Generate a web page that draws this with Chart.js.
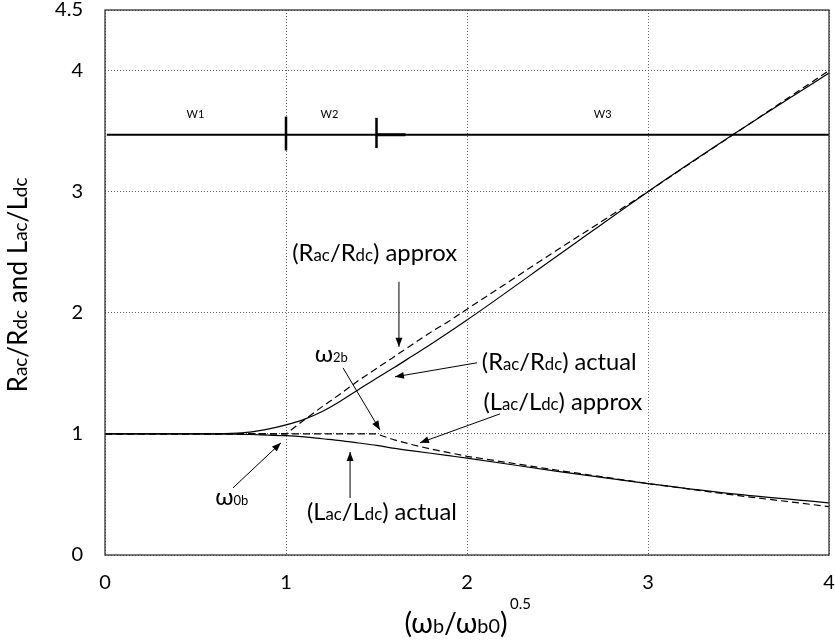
<!DOCTYPE html>
<html>
<head>
<meta charset="utf-8">
<script src="https://cdn.jsdelivr.net/npm/chart.js@4.4.1/dist/chart.umd.min.js"></script>
<style>
  body { margin: 0; background: #fff; }
  #wrap { width: 835px; height: 644px; }
</style>
</head>
<body>
<div id="wrap"><canvas id="ratioChart"></canvas></div>
<script>
// x = (wb/wb0)^0.5
const xs = [0, 0.5, 0.7, 0.8, 0.9, 1, 1.1, 1.2, 1.3, 1.4, 1.5, 1.6, 1.7, 1.8, 1.9, 2, 2.5, 3, 3.5, 4];
const racActual = [1, 1, 1.005, 1.015, 1.04, 1.075, 1.12, 1.185, 1.27, 1.365, 1.46, 1.55, 1.645, 1.74, 1.84, 1.94, 2.47, 3.0, 3.5, 3.98];
const racApprox = [1, 1, 1, 1, 1, 1, 1.115, 1.225, 1.33, 1.44, 1.54, 1.64, 1.74, 1.84, 1.93, 2.03, 2.52, 3.0, 3.5, 4.0];
const lacActual = [1, 1, 0.998, 0.995, 0.99, 0.985, 0.975, 0.96, 0.945, 0.925, 0.905, 0.88, 0.86, 0.84, 0.82, 0.8, 0.69, 0.59, 0.5, 0.43];
const lacApprox = [1, 1, 1, 1, 1, 1, 1, 1, 1, 1, 1, 0.95, 0.91, 0.875, 0.845, 0.815, 0.7, 0.59, 0.49, 0.4];

const xTicks = [0, 1, 2, 3, 4];
const yTicks = [0, 1, 2, 3, 4, 4.5];

// W1 / W2 / W3 region bar
const regionLevel = 3.47;
const regionBounds = [1, 1.5];
const regionLabels = ['W1', 'W2', 'W3'];
const regionLabelX = [0.5, 1.24, 2.75];

const FONT = 'Lato, "Liberation Sans", sans-serif';

function pts(ys) { return xs.map((x, i) => ({ x: x, y: ys[i] })); }

// rich text: segments [text, size]; fit = wanted total width in px
function drawRich(ctx, segs, x, y, align, fit) {
  let w = 0;
  segs.forEach(s => { ctx.font = s[1] + 'px ' + FONT; w += ctx.measureText(s[0]).width; });
  const k = fit ? fit / w : 1;
  let cx = align === 'center' ? x - w * k / 2 : x;
  ctx.textBaseline = 'alphabetic';
  ctx.textAlign = 'left';
  segs.forEach(s => {
    ctx.font = (s[1] * k).toFixed(2) + 'px ' + FONT;
    ctx.fillText(s[0], cx, y);
    cx += ctx.measureText(s[0]).width;
  });
}

function arrow(ctx, x1, y1, x2, y2) {
  ctx.beginPath();
  ctx.moveTo(x1, y1);
  ctx.lineTo(x2, y2);
  ctx.lineWidth = 1;
  ctx.strokeStyle = '#000';
  ctx.stroke();
  const a = Math.atan2(y2 - y1, x2 - x1);
  const len = 9, hw = 3.5;
  ctx.beginPath();
  ctx.moveTo(x2, y2);
  ctx.lineTo(x2 - len * Math.cos(a) + hw * Math.sin(a), y2 - len * Math.sin(a) - hw * Math.cos(a));
  ctx.lineTo(x2 - len * Math.cos(a) - hw * Math.sin(a), y2 - len * Math.sin(a) + hw * Math.cos(a));
  ctx.closePath();
  ctx.fillStyle = '#000';
  ctx.fill();
}

const B = 22, S = 15.5;
const labels = [
  { x: 1.49, y: 2.43, w: 165, segs: [['(', B], ['R', B], ['ac', S], ['/R', B], ['dc', S], [') approx', B]] },
  { x: 2.51, y: 1.53, w: 155, segs: [['(', B], ['R', B], ['ac', S], ['/R', B], ['dc', S], [') actual', B]] },
  { x: 2.53, y: 1.20, w: 159, segs: [['(', B], ['L', B], ['ac', S], ['/L', B], ['dc', S], [') approx', B]] },
  { x: 1.53, y: 0.29, w: 150, segs: [['(', B], ['L', B], ['ac', S], ['/L', B], ['dc', S], [') actual', B]] },
  { x: 1.25, y: 1.59, segs: [['ω', 24], ['2b', 13]] },
  { x: 0.70, y: 0.41, segs: [['ω', 24], ['0b', 13]] }
];
const arrows = [
  [1.624, 2.256, 1.624, 1.719],
  [2.055, 1.587, 1.602, 1.471],
  [2.182, 1.165, 1.740, 0.926],
  [1.315, 1.545, 1.519, 1.033],
  [0.707, 0.554, 0.972, 0.926],
  [1.354, 0.471, 1.354, 0.851]
];

const annotate = {
  id: 'annotate',
  afterDatasetsDraw(chart) {
    const ctx = chart.ctx;
    const xa = chart.scales.x, ya = chart.scales.y;
    const a = chart.chartArea;
    ctx.save();
    // frame
    ctx.strokeStyle = '#333';
    ctx.lineWidth = 1.3;
    ctx.strokeRect(a.left, a.top, a.right - a.left, a.bottom - a.top);

    ctx.fillStyle = '#000';
    labels.forEach(l => drawRich(ctx, l.segs, xa.getPixelForValue(l.x), ya.getPixelForValue(l.y), 'center', l.w));
    arrows.forEach(r => arrow(ctx, xa.getPixelForValue(r[0]), ya.getPixelForValue(r[1]),
      xa.getPixelForValue(r[2]), ya.getPixelForValue(r[3])));

    ctx.font = '11px ' + FONT;
    ctx.textAlign = 'center';
    ctx.textBaseline = 'middle';
    regionLabels.forEach((t, i) => ctx.fillText(t, xa.getPixelForValue(regionLabelX[i]), ya.getPixelForValue(regionLevel + 0.17)));

    // axis titles
    ctx.fillStyle = '#000';
    ctx.save();
    ctx.translate(27, 285);
    ctx.rotate(-Math.PI / 2);
    drawRich(ctx, [['R', 18], ['ac', 13], ['/R', 18], ['dc', 13], [' and L', 18], ['ac', 13], ['/L', 18], ['dc', 13]], 0, 0, 'center', 215);
    ctx.restore();
    drawRich(ctx, [['(ω', 20], ['b', 14], ['/ω', 20], ['b0', 14], [')', 20]], 456, 633, 'center', 103);
    ctx.font = '15px ' + FONT;
    ctx.textAlign = 'left';
    ctx.fillText('0.5', 510, 609);
    ctx.restore();
  }
};

// keep the plot box fixed: no extra room for edge tick labels
function fixPad(s) { s.paddingTop = 0; s.paddingBottom = 0; s.paddingLeft = 0; s.paddingRight = 0; }

const ctx = document.getElementById('ratioChart');

new Chart(ctx, {
  type: 'line',
  data: {
    datasets: [
      { data: pts(racActual), borderColor: '#000', borderWidth: 1.2, cubicInterpolationMode: 'monotone' },
      { data: pts(racApprox), borderColor: '#000', borderWidth: 1.2, borderDash: [7, 4], tension: 0 },
      { data: pts(lacActual), borderColor: '#000', borderWidth: 1.2, cubicInterpolationMode: 'monotone' },
      { data: pts(lacApprox), borderColor: '#000', borderWidth: 1.2, borderDash: [7, 4], tension: 0 },
      // region bar
      { data: [{ x: 0.01, y: regionLevel }, { x: 4, y: regionLevel }], borderColor: '#000', borderWidth: 2 },
      { data: [{ x: regionBounds[1], y: regionLevel }, { x: 1.66, y: regionLevel }], borderColor: '#000', borderWidth: 3 },
      { data: [{ x: regionBounds[0], y: 3.34 }, { x: regionBounds[0], y: 3.62 }], borderColor: '#000', borderWidth: 2.5 },
      { data: [{ x: regionBounds[1], y: 3.36 }, { x: regionBounds[1], y: 3.61 }], borderColor: '#000', borderWidth: 2.5 }
    ]
  },
  options: {
    responsive: true,
    maintainAspectRatio: false,
    animation: false,
    layout: { padding: { top: 10, right: 6, left: 0, bottom: 0 } },
    elements: { point: { radius: 0 } },
    plugins: { legend: { display: false }, tooltip: { enabled: false } },
    scales: {
      x: {
        type: 'linear',
        min: 0,
        max: 4,
        afterBuildTicks: s => { s.ticks = xTicks.map(v => ({ value: v })); },
        afterFit: s => { s.height = 89; fixPad(s); },
        ticks: { color: '#000', font: { family: FONT, size: 20 }, padding: 16, maxRotation: 0 },
        grid: { color: '#666', drawTicks: false },
        border: { display: false, dash: [1, 2] }
      },
      y: {
        type: 'linear',
        min: 0,
        max: 4.5,
        afterBuildTicks: s => { s.ticks = yTicks.map(v => ({ value: v })); },
        afterFit: s => { s.width = 105; fixPad(s); },
        ticks: { color: '#000', font: { family: FONT, size: 20 }, padding: 22 },
        grid: { color: '#666', drawTicks: false },
        border: { display: false, dash: [1, 2] }
      }
    }
  },
  plugins: [annotate]
});
</script>
</body>
</html>
